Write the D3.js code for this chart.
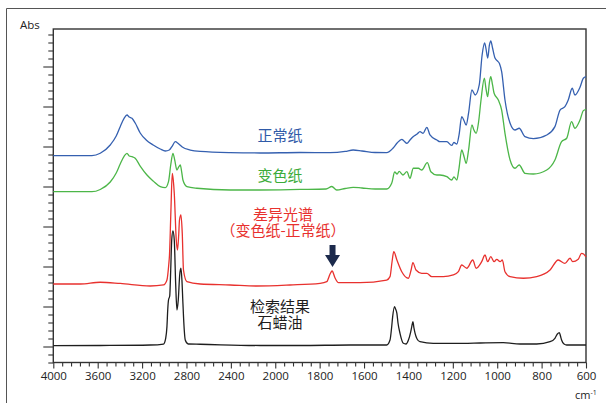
<!DOCTYPE html>
<html><head><meta charset="utf-8">
<script src="https://cdn.jsdelivr.net/npm/d3@7"></script>
<style>body{margin:0;background:#fff}svg{display:block}</style>
</head><body>
<svg id="c" width="606" height="403"></svg>
<script>
// x-axis tick labels (cm-1)
const xTickLabels = [4000,3600,3200,2800,2400,2000,1800,1600,1400,1200,1000,800,600];

// Spectra: [wavenumber, absorbance]
const normalPaper = [[4000,2.385],[3652,2.385],[3577,2.415],[3487,2.519],[3433,2.631],[3397,2.748],[3361,2.856],[3336,2.894],[3316,2.869],[3291,2.853],[3262,2.794],[3217,2.669],[3163,2.581],[3100,2.519],[3036,2.469],[2991,2.444],[2955,2.456],[2928,2.506],[2901,2.56],[2874,2.538],[2838,2.494],[2766,2.456],[2676,2.438],[2406,2.423],[2136,2.419],[1888,2.425],[1753,2.423],[1685,2.438],[1649,2.456],[1609,2.444],[1550,2.425],[1498,2.423],[1469,2.481],[1451,2.544],[1430,2.59],[1420,2.569],[1407,2.54],[1393,2.581],[1379,2.623],[1361,2.656],[1348,2.685],[1334,2.665],[1317,2.74],[1303,2.644],[1272,2.581],[1258,2.56],[1227,2.56],[1205,2.513],[1195,2.55],[1182,2.531],[1172,2.644],[1160,2.873],[1149,2.819],[1140,2.769],[1129,2.919],[1114,3.206],[1099,3.144],[1081,3.269],[1068,3.644],[1057,3.794],[1051,3.731],[1043,3.606],[1035,3.769],[1029,3.819],[1021,3.731],[1010,3.606],[999,3.569],[990,3.538],[980,3.435],[965,3.081],[942,2.79],[920,2.706],[901,2.728],[875,2.623],[837,2.598],[777,2.644],[740,2.748],[717,2.956],[695,2.998],[680,3.081],[662,3.228],[650,3.144],[627,3.24],[612,3.353],[600,3.373]];

const discoloredPaper = [[4000,1.935],[3652,1.935],[3577,1.963],[3487,2.056],[3433,2.169],[3397,2.281],[3361,2.381],[3336,2.415],[3316,2.381],[3291,2.373],[3262,2.353],[3217,2.256],[3156,2.144],[3100,2.069],[3036,1.998],[2991,1.985],[2962,2.06],[2942,2.269],[2922,2.415],[2906,2.331],[2886,2.206],[2870,2.244],[2856,2.269],[2843,2.181],[2832,2.081],[2796,1.998],[2706,1.978],[2406,1.956],[2136,1.956],[1888,1.963],[1771,1.969],[1745,2.0],[1723,1.956],[1685,1.975],[1649,1.99],[1609,1.981],[1550,1.969],[1498,1.969],[1475,2.044],[1462,2.181],[1451,2.156],[1442,2.188],[1425,2.144],[1407,2.185],[1393,2.103],[1378,2.228],[1355,2.228],[1340,2.206],[1315,2.298],[1299,2.185],[1272,2.144],[1258,2.144],[1227,2.123],[1205,2.081],[1195,2.119],[1182,2.081],[1172,2.231],[1160,2.456],[1149,2.369],[1140,2.29],[1129,2.456],[1114,2.769],[1105,2.706],[1095,2.665],[1084,2.806],[1073,3.081],[1058,3.353],[1051,3.231],[1043,3.123],[1035,3.306],[1029,3.373],[1021,3.269],[1014,3.165],[995,3.081],[980,2.956],[965,2.665],[942,2.331],[920,2.228],[901,2.269],[875,2.165],[837,2.156],[777,2.206],[740,2.331],[710,2.56],[687,2.603],[665,2.81],[650,2.728],[627,2.831],[612,2.948],[600,2.965]];

const differenceSpectrum = [[4000,0.781],[3757,0.781],[3577,0.803],[3397,0.788],[3127,0.756],[3007,0.769],[2976,0.831],[2960,1.019],[2953,1.144],[2940,1.706],[2928,2.165],[2919,2.081],[2910,1.915],[2892,1.331],[2881,1.206],[2870,1.394],[2863,1.581],[2850,1.644],[2838,1.415],[2827,0.956],[2796,0.81],[2676,0.781],[2406,0.769],[2166,0.756],[1934,0.769],[1798,0.79],[1768,0.81],[1753,0.906],[1744,0.944],[1730,0.853],[1715,0.798],[1618,0.798],[1498,0.831],[1483,0.873],[1474,1.056],[1466,1.185],[1452,1.081],[1430,0.935],[1400,0.853],[1388,0.956],[1380,1.048],[1366,0.956],[1340,0.915],[1317,0.915],[1295,0.873],[1243,0.873],[1198,0.894],[1175,0.935],[1160,1.019],[1137,0.978],[1110,1.081],[1095,0.978],[1070,1.06],[1055,1.144],[1043,1.06],[1029,1.123],[1014,1.06],[1002,1.09],[987,1.06],[977,1.081],[965,0.935],[942,0.873],[882,0.853],[822,0.873],[762,0.956],[725,1.081],[695,1.04],[672,1.103],[660,1.06],[635,1.09],[620,1.165],[611,1.156],[600,1.119]];

const paraffinOil = [[4000,0.01],[3577,0.0125],[3127,0.019],[3007,0.031],[2987,0.106],[2976,0.248],[2969,0.456],[2962,0.581],[2951,0.631],[2942,0.956],[2933,1.331],[2922,1.444],[2910,1.331],[2897,0.769],[2886,0.456],[2874,0.581],[2861,0.894],[2850,0.978],[2841,0.831],[2832,0.54],[2820,0.206],[2811,0.081],[2784,0.031],[2676,0.028],[2136,0.0125],[1888,0.0125],[1663,0.019],[1498,0.019],[1483,0.081],[1476,0.231],[1471,0.373],[1463,0.498],[1458,0.469],[1452,0.415],[1447,0.294],[1438,0.165],[1423,0.04],[1411,0.031],[1400,0.081],[1390,0.181],[1385,0.248],[1380,0.31],[1375,0.231],[1370,0.165],[1361,0.094],[1348,0.06],[1288,0.04],[1153,0.04],[1077,0.044],[973,0.048],[897,0.031],[822,0.031],[762,0.06],[740,0.103],[729,0.156],[720,0.173],[715,0.131],[710,0.081],[699,0.031],[687,0.019],[600,0.019]];

const seriesColors = ["#3560b0","#4cb648","#e8312e","#1e1e1e"];
const seriesLabels = [["正常纸"],["变色纸"],["差异光谱","（变色纸-正常纸）"],["检索结果","石蜡油"]];
const labelColors = ["#2f5aa8","#3cab3a","#e8312e","#1e1e1e"];

const svg = d3.select("#c");
const W = 606, H = 403;
const pLeft = 53.3, pRight = 586, pTop = 29, pBottom = 362.5;

// outer frame
svg.append("path").attr("d", `M6.5,${H} V8.5 H${W}`).attr("fill","none").attr("stroke","#555").attr("stroke-width",1);

const x = d3.scaleLinear().domain([4000,2000,600]).range([pLeft, pLeft + 5*(pRight-pLeft)/12, pRight]);
const y = d3.scaleLinear().domain([-0.2, -0.2 + (pBottom-pTop)/80]).range([pBottom, pTop]);

// minor x ticks
const minorX = [];
for (let i = 0; i < xTickLabels.length - 1; i++) {
  const a = xTickLabels[i], b = xTickLabels[i+1];
  for (let k = 1; k < 5; k++) minorX.push(a + (b-a)*k/5);
}
const fontNum = "'Open Sans', 'DejaVu Sans', sans-serif";

const gx = svg.append("g").attr("transform", `translate(0,${pBottom})`);
gx.call(d3.axisBottom(x).tickValues(minorX).tickSize(4).tickFormat("").tickSizeOuter(0));
const gx2 = svg.append("g").attr("transform", `translate(0,${pBottom})`);
gx2.call(d3.axisBottom(x).tickValues(xTickLabels).tickSize(6).tickSizeOuter(0).tickPadding(9).tickFormat(d => d));
[gx, gx2].forEach(g => {
  g.select(".domain").remove();
  g.selectAll(".tick line").attr("stroke","#333").attr("stroke-width",1.1);
});
gx2.selectAll(".tick text").attr("font-family", fontNum).attr("font-size", "11.5px").attr("fill","#222").attr("dy","0.2em");

// y ticks
const yTicks = d3.range(-2, 40).map(v => v/10);
const yMajor = yTicks.filter(v => Math.abs(v*2 - Math.round(v*2)) < 1e-6);
const yMinor = yTicks.filter(v => Math.abs(v*2 - Math.round(v*2)) >= 1e-6);
const gy = svg.append("g").attr("transform", `translate(${pLeft},0)`);
gy.call(d3.axisLeft(y).tickValues(yMinor).tickSize(5).tickFormat("").tickSizeOuter(0));
const gy2 = svg.append("g").attr("transform", `translate(${pLeft},0)`);
gy2.call(d3.axisLeft(y).tickValues(yMajor).tickSize(10).tickFormat("").tickSizeOuter(0));
[gy, gy2].forEach(g => {
  g.select(".domain").remove();
  g.selectAll(".tick line").attr("stroke","#333").attr("stroke-width",1.1);
});

// plot frame
svg.append("rect").attr("x", pLeft).attr("y", pTop).attr("width", pRight-pLeft).attr("height", pBottom-pTop)
  .attr("fill","none").attr("stroke","#333").attr("stroke-width",1.4);

// spectra
const line = d3.line().x(d => x(d[0])).y(d => y(d[1])).curve(d3.curveMonotoneX);
[normalPaper, discoloredPaper, differenceSpectrum, paraffinOil].forEach((s, i) => {
  svg.append("path").datum(s).attr("d", line).attr("fill","none")
    .attr("stroke", seriesColors[i]).attr("stroke-width", 1.3).attr("stroke-linejoin","round");
});

// labels (multi-line labels as one text element with tspans)
const cjk = "'Noto Sans CJK SC', 'Noto Sans', sans-serif";
const labelPos = [[280,140.5],[280,180.5],[283,219.5],[280,311.5]];
seriesLabels.forEach((lines, i) => {
  const t = svg.append("text").attr("x", labelPos[i][0]).attr("y", labelPos[i][1])
    .attr("text-anchor","middle").attr("font-family", cjk).attr("font-size","15px")
    .attr("fill", labelColors[i]);
  lines.forEach((s, j) => {
    t.append("tspan").attr("x", labelPos[i][0]).attr("dy", j === 0 ? 0 : 16).text(s);
  });
});

// arrow pointing at the 1740 cm-1 band of the difference spectrum
const arrowWn = 1742, arrowTipAbs = 0.994;
const ax = x(arrowWn), ay = y(arrowTipAbs);
svg.append("path").attr("d",
  `M${ax},${ay} L${ax-7.5},${ay-12} L${ax-3},${ay-12} L${ax-3},${ay-22} L${ax+3},${ay-22} L${ax+3},${ay-12} L${ax+7.5},${ay-12} Z`)
  .attr("fill","#1c2a4c");

// axis titles
svg.append("text").attr("x", 20).attr("y", 29).attr("font-family", fontNum).attr("font-size","11.5px").attr("fill","#222").text("Abs");
const cm = svg.append("text").attr("x", 575).attr("y", 398.5).attr("font-family", fontNum).attr("font-size","11px").attr("fill","#222");
cm.append("tspan").text("cm");
cm.append("tspan").attr("font-size","7px").attr("dy","-4").text("-1");
</script>
</body></html>
